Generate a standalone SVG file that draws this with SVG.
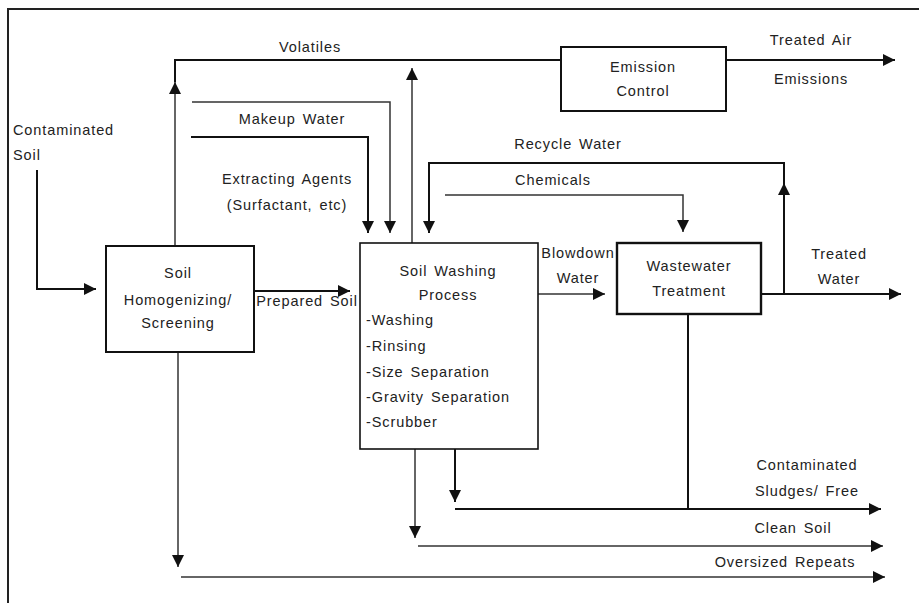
<svg xmlns="http://www.w3.org/2000/svg" width="919" height="603" viewBox="0 0 919 603">
<defs>
<marker id="arr" markerUnits="userSpaceOnUse" markerWidth="12" markerHeight="12" refX="12" refY="6" orient="auto">
<path d="M0,0 L12,6 L0,12 z" fill="#111"/>
</marker>
<style>
text{font-family:"Liberation Sans",Arial,sans-serif;font-size:14.5px;fill:#222;letter-spacing:0.9px;word-spacing:2px}
.m{text-anchor:middle}
.box{fill:#fff;stroke:#111;stroke-width:2}
.ln{fill:none;stroke:#111;stroke-width:2}
.th{fill:none;stroke:#333;stroke-width:1.5}
</style>
</defs>
<rect width="919" height="603" fill="#fff"/>
<path d="M8,603 L8,9 L919,9" fill="none" stroke="#222" stroke-width="2"/>

<g id="connectors">
<!-- contaminated soil -->
<path class="ln" d="M37,170 L37,289 L96,289" marker-end="url(#arr)"/>
<!-- volatiles -->
<path class="th" d="M175,246 L175,82" marker-end="url(#arr)"/>
<path class="ln" d="M175,82 L175,60 L560,60"/>
<path class="ln" d="M726,60 L895,60" marker-end="url(#arr)"/>
<!-- soil washing up -->
<path class="th" d="M412,243 L412,68" marker-end="url(#arr)"/>
<!-- makeup water -->
<path class="th" d="M192,102 L390,102 L390,233" marker-end="url(#arr)"/>
<path class="ln" d="M191,137 L368,137 L368,233" marker-end="url(#arr)"/>
<!-- prepared soil -->
<path class="ln" d="M254,291 L350,291" marker-end="url(#arr)"/>
<!-- blowdown -->
<path class="th" d="M538,294 L605,294" marker-end="url(#arr)"/>
<!-- treated water -->
<path class="ln" d="M761,294 L901,294" marker-end="url(#arr)"/>
<path class="ln" d="M784,294 L784,183" marker-end="url(#arr)"/>
<path class="ln" d="M784,183 L784,163 L429,163 L429,233" marker-end="url(#arr)"/>
<!-- chemicals -->
<path class="th" d="M445,195 L683,195 L683,232" marker-end="url(#arr)"/>
<!-- sludges -->
<path class="ln" d="M688,314 L688,509"/>
<path class="ln" d="M455,449 L455,502" marker-end="url(#arr)"/>
<path class="ln" d="M455,509 L881,509" marker-end="url(#arr)"/>
<!-- clean soil -->
<path class="th" d="M415,446 L415,538" marker-end="url(#arr)"/>
<path class="th" d="M418,546 L883,546" marker-end="url(#arr)"/>
<!-- oversized -->
<path class="th" d="M178,352 L178,567" marker-end="url(#arr)"/>
<path class="th" d="M181,577 L885,577" marker-end="url(#arr)"/>
</g>

<g id="emission-control">
<rect class="box" x="561" y="47" width="165" height="64"/>
<text class="m" x="643" y="72">Emission</text>
<text class="m" x="643" y="96">Control</text>
</g>

<g id="soil-homogenizing">
<rect class="box" x="106" y="246" width="148" height="106"/>
<text class="m" x="178" y="278">Soil</text>
<text class="m" x="178" y="305">Homogenizing/</text>
<text class="m" x="178" y="328">Screening</text>
</g>

<g id="soil-washing">
<rect class="box" x="360" y="243" width="178" height="206" style="stroke-width:1.6"/>
<text class="m" x="448" y="276">Soil Washing</text>
<text class="m" x="448" y="300">Process</text>
<text x="366" y="325">-Washing</text>
<text x="366" y="351">-Rinsing</text>
<text x="366" y="377">-Size Separation</text>
<text x="366" y="402">-Gravity Separation</text>
<text x="366" y="427">-Scrubber</text>
</g>

<g id="wastewater-treatment">
<rect class="box" x="617" y="243" width="144" height="71" style="stroke-width:2.4"/>
<text class="m" x="689" y="271">Wastewater</text>
<text class="m" x="689" y="296">Treatment</text>
</g>

<g id="labels">
<text x="13" y="135">Contaminated</text>
<text x="13" y="160">Soil</text>
<text class="m" x="310" y="52">Volatiles</text>
<text class="m" x="811" y="45">Treated Air</text>
<text class="m" x="811" y="84">Emissions</text>
<text class="m" x="292" y="124">Makeup Water</text>
<text class="m" x="287" y="184">Extracting Agents</text>
<text class="m" x="287" y="210">(Surfactant, etc)</text>
<text class="m" x="568" y="149">Recycle Water</text>
<text class="m" x="553" y="185">Chemicals</text>
<text class="m" x="307" y="306">Prepared Soil</text>
<text class="m" x="578" y="258">Blowdown</text>
<text class="m" x="578" y="283">Water</text>
<text class="m" x="839" y="259">Treated</text>
<text class="m" x="839" y="284">Water</text>
<text class="m" x="807" y="470">Contaminated</text>
<text class="m" x="807" y="496">Sludges/ Free</text>
<text class="m" x="793" y="533">Clean Soil</text>
<text class="m" x="785" y="567">Oversized Repeats</text>
</g>
</svg>
